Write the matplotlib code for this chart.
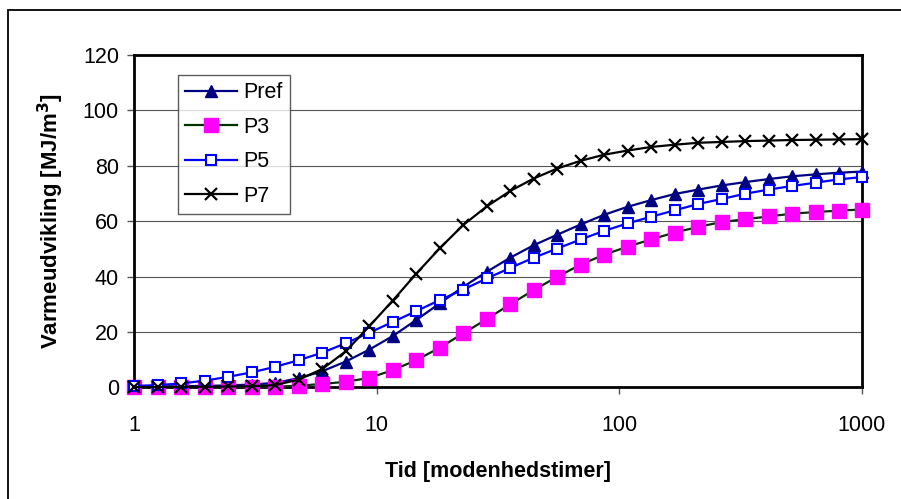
import matplotlib
matplotlib.use("Agg")
import matplotlib.pyplot as plt
from matplotlib.patches import Rectangle
from matplotlib.ticker import FixedLocator, NullLocator

plt.rcParams['font.family'] = ['Liberation Sans', 'DejaVu Sans']

# time steps (maturity hours), factor 1.25 per step
tid = [1, 1.25, 1.56, 1.95, 2.44, 3.05, 3.81, 4.77, 5.96, 7.45,
       9.31, 11.64, 14.55, 18.19, 22.74, 28.42, 35.53, 44.41, 55.51, 69.39,
       86.74, 108.4, 135.5, 169.4, 211.8, 264.7, 330.9, 413.6, 517.0, 646.2,
       807.8, 1000]

pref = [0.3, 0.3, 0.4, 0.5, 0.7, 1.0, 1.6, 3.3, 5.8, 9.3,
        13.6, 18.5, 24.3, 30.3, 36.3, 41.7, 46.8, 51.3, 55.1, 58.8,
        62.3, 65.2, 67.6, 69.8, 71.4, 72.9, 74.1, 75.2, 76.2, 76.9,
        77.5, 77.9]
p3 = [0.0, 0.0, 0.0, 0.0, 0.0, 0.1, 0.2, 0.6, 1.2, 2.0,
      3.4, 6.2, 9.8, 14.3, 19.5, 24.6, 30.0, 35.1, 39.9, 44.3,
      47.9, 50.8, 53.4, 55.9, 57.9, 59.7, 60.7, 61.7, 62.7, 63.3,
      63.8, 64.2]
p5 = [0.5, 0.8, 1.4, 2.4, 3.8, 5.4, 7.4, 9.8, 12.5, 15.9,
      19.7, 23.6, 27.5, 31.5, 35.3, 39.3, 43.1, 46.8, 50.1, 53.4,
      56.5, 59.2, 61.6, 63.9, 66.2, 68.0, 69.9, 71.4, 72.7, 73.9,
      75.1, 75.9]
p7 = [0.1, 0.1, 0.2, 0.2, 0.3, 0.4, 0.8, 2.8, 6.6, 13.0,
      22.0, 31.3, 41.0, 50.2, 58.6, 65.3, 70.9, 75.4, 79.0, 81.8,
      84.0, 85.5, 86.8, 87.6, 88.3, 88.6, 88.9, 89.1, 89.3, 89.4,
      89.5, 89.6]

xticks = [1, 10, 100, 1000]
yticks = [0, 20, 40, 60, 80, 100, 120]

fig = plt.figure(figsize=(9.01, 4.99), dpi=100)
ax = fig.add_axes([0.149, 0.2238, 0.8073, 0.666])

ax.plot(tid, pref, '-', color='#000080', lw=1.6, marker='^', ms=8.5,
        mfc='#000080', mec='#000080', label='Pref', clip_on=False, zorder=3)
ax.plot(tid, p3, '-', color='#003300', lw=1.6, marker='s', ms=9.5,
        mfc='#ff00ff', mec='#ff00ff', label='P3', clip_on=False, zorder=3)
ax.plot(tid, p5, '-', color='#0000ff', lw=1.6, marker='s', ms=7.5,
        mfc='white', mec='#0000ff', mew=1.5, label='P5', clip_on=False, zorder=3)
ax.plot(tid, p7, '-', color='black', lw=1.6, marker='x', ms=9,
        mec='black', mew=1.6, label='P7', clip_on=False, zorder=3)

ax.set_xscale('log')
ax.set_xlim(1, 1000)
ax.set_ylim(0, 120)
ax.xaxis.set_major_locator(FixedLocator(xticks))
ax.xaxis.set_minor_locator(NullLocator())
ax.set_xticklabels([str(v) for v in xticks])
ax.set_yticks(yticks)
ax.yaxis.grid(True, color='#555555', lw=0.8)
ax.set_axisbelow(True)
ax.tick_params(axis='both', labelsize=15.5, direction='out', length=5,
               width=1, color='#555555', pad=6)
ax.tick_params(axis='x', pad=15)
for sp in ax.spines.values():
    sp.set_linewidth(2)
    sp.set_color('black')

ax.set_xlabel('Tid [modenhedstimer]', fontsize=15.5, fontweight='bold', labelpad=18)
ax.set_ylabel('Varmeudvikling [MJ/m$^\\mathbf{3}$]', fontsize=16,
              fontweight='bold', labelpad=12)

leg = ax.legend(loc='upper left', bbox_to_anchor=(0.060, 0.94), fontsize=15.5,
                frameon=True, fancybox=False, edgecolor='#333333',
                handlelength=2.4, handletextpad=0.3, labelspacing=0.62,
                borderpad=0.35, borderaxespad=0)
leg.get_frame().set_linewidth(1)

# outer chart border
fig.add_artist(Rectangle((8 / 901, -0.1), 1.2, (499 - 10) / 499 + 0.1,
                         transform=fig.transFigure, fill=False,
                         edgecolor='black', lw=1.3))

fig.savefig('out.png', dpi=100)
